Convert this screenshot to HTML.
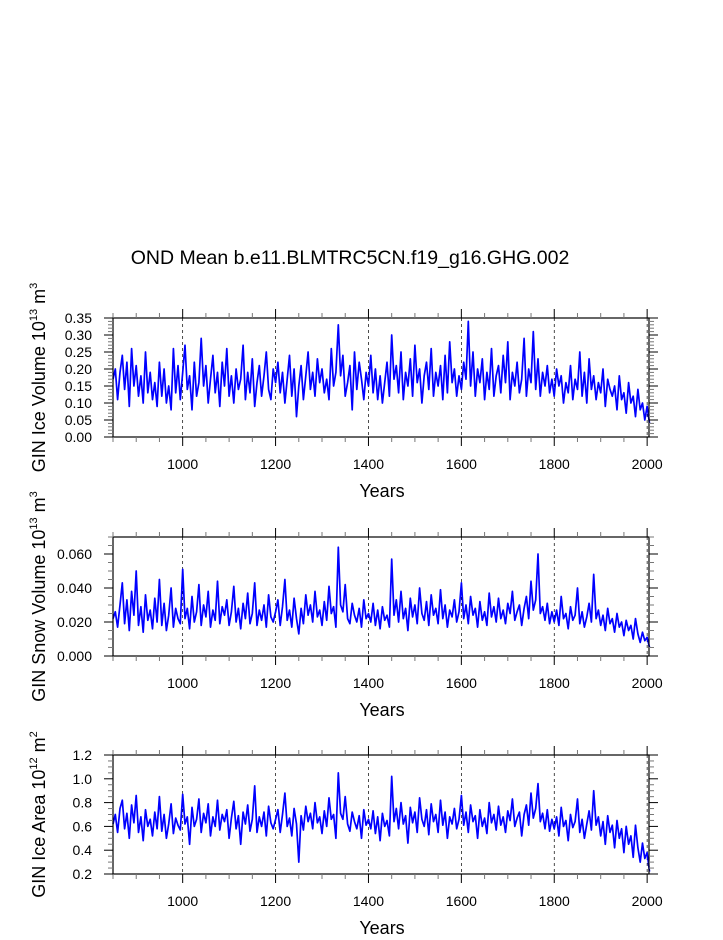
<!DOCTYPE html>
<html><head><meta charset="utf-8">
<style>
html,body{margin:0;padding:0;background:#fff;}
svg text{font-family:"Liberation Sans",Arial,sans-serif;fill:#000;}
</style></head>
<body>
<svg id="chart" width="723" height="935" xmlns="http://www.w3.org/2000/svg">
<text x="350" y="264" font-size="19.5" text-anchor="middle">OND Mean b.e11.BLMTRC5CN.f19_g16.GHG.002</text>
</svg>
<script>
const startYear = 850;
const stepYears = 5;
const xTickYears = [1000, 1200, 1400, 1600, 1800, 2000];
const iceVolume = [17,20,11,19,24,14,22,9,26,15,21,12,18,10,25,13,19,11,16,9,22,12,20,10,15,8,26,13,21,11,
19,27,14,18,8,22,12,16,29,15,21,10,17,24,13,19,9,22,15,26,12,18,10,20,14,17,27,11,19,13,23,9,16,21,12,18,25,14,11,20,
16,22,13,19,10,17,24,12,20,6,15,21,11,18,25,14,19,12,23,16,20,13,17,11,26,15,19,33,18,24,12,16,21,8,25,14,22,17,11,19,
15,24,13,20,11,18,10,16,22,12,30,17,21,13,25,11,19,15,23,12,27,16,20,10,18,22,14,26,12,19,15,21,11,24,13,28,16,20,12,18,
14,22,17,34,15,25,12,20,16,23,11,19,14,26,12,18,21,13,24,16,28,11,19,15,22,13,17,29,12,20,16,31,14,23,12,19,15,21,13,17,
12,20,15,18,10,16,13,21,11,17,14,25,12,19,10,23,14,18,11,16,13,20,9,17,14,12,15,8,18,11,13,7,16,10,12,6,14,8,10,5,9,4].map(v=>v/100);
const snowVolume = [22,26,17,30,43,19,33,15,38,24,50,18,29,14,36,21,27,16,34,20,45,18,31,15,24,40,17,28,22,19,
51,22,28,16,35,20,26,42,18,30,23,38,17,27,21,44,19,29,24,33,18,26,41,20,28,16,31,22,37,19,25,43,18,27,21,30,17,36,23,20,
26,33,18,29,45,21,27,17,34,22,13,28,19,36,24,30,20,38,23,27,18,32,21,41,25,29,17,64,30,26,42,22,19,31,24,20,28,17,33,22,
25,20,31,18,27,16,29,21,24,17,57,24,33,20,38,22,28,15,34,23,30,19,40,25,21,32,18,36,24,28,19,39,22,30,17,27,23,33,20,26,
43,22,30,19,35,24,28,17,32,21,26,18,37,23,29,20,34,22,27,19,31,25,38,21,26,30,18,28,35,22,44,27,33,60,25,29,21,31,19,26,
20,27,18,35,22,25,16,29,21,24,40,19,26,17,23,31,20,48,22,27,18,24,15,28,19,22,14,25,17,20,12,21,15,18,10,22,13,8,14,9,11,5].map(v=>v/1000);
const iceArea = [62,70,55,75,82,58,71,50,78,63,86,55,68,48,74,60,66,52,72,58,85,56,70,50,62,79,54,67,61,57,
87,62,68,45,76,60,66,83,55,71,63,79,52,68,60,82,57,70,64,74,50,67,81,58,69,45,72,62,78,56,66,94,55,68,60,72,52,77,63,58,
66,74,55,70,88,60,67,52,75,62,30,69,57,77,64,71,58,80,63,68,54,73,60,84,66,70,50,105,71,66,85,62,56,72,64,58,69,50,74,61,
66,58,73,54,68,48,71,60,65,52,102,64,75,58,80,62,69,46,76,63,72,55,84,66,60,74,53,79,64,70,55,82,61,72,50,68,62,75,58,66,
86,61,72,55,78,64,69,50,74,60,67,54,80,63,70,57,77,61,68,55,73,65,83,60,67,72,52,70,78,61,88,67,75,96,64,71,58,74,56,66,
58,68,52,76,60,65,48,70,59,64,83,55,66,50,62,73,57,90,61,68,52,64,45,69,55,61,42,65,50,58,38,60,45,52,34,61,42,30,46,33,38,22].map(v=>v/100);
const iceVolTicks = ["0.00","0.05","0.10","0.15","0.20","0.25","0.30","0.35"];
const snowTicks = ["0.000","0.020","0.040","0.060"];
const areaTicks = ["0.2","0.4","0.6","0.8","1.0","1.2"];

const NS="http://www.w3.org/2000/svg";
const svg=document.getElementById('chart');
const X0=113,X1=649,XMIN=850,XMAX=2004;
function xs(y){return X0+(y-XMIN)/(XMAX-XMIN)*(X1-X0);}
function mk(t,a,p){const e=document.createElementNS(NS,t);for(const k in a)e.setAttribute(k,a[k]);(p||svg).appendChild(e);return e;}

function panel(name,top,bot,ymin,ymax,ticks,majStep,minStep,data,ylabel,unitExp,powExp){
  const g=mk('g',{});
  
  
  const ys=v=>bot-(v-ymin)/(ymax-ymin)*(bot-top);
  xTickYears.forEach(yr=>{
    const l=mk('line',{x1:xs(yr),x2:xs(yr),y1:top,y2:bot,stroke:'#000','stroke-width':0.7,'stroke-dasharray':'3,3'},g);
    
    
  });
  let d='';
  data.forEach((v,i)=>{d+=(i?'L':'M')+xs(startYear+i*stepYears).toFixed(1)+','+ys(v).toFixed(1);});
  const p=mk('path',{d:d,fill:'none',stroke:'#0000ff','stroke-width':1.7,'stroke-linejoin':'round'},g);
  
  
  const r=mk('rect',{x:X0,y:top,width:X1-X0,height:bot-top,fill:'none',stroke:'#000','stroke-width':1.2},g);
  
  
  for(let yr=850;yr<=2000;yr+=50){
    const maj=xTickYears.includes(yr);const L=maj?9:5;
    mk('line',{x1:xs(yr),x2:xs(yr),y1:top,y2:top-L,stroke:maj?'#000':'#777','stroke-width':1},g);
    mk('line',{x1:xs(yr),x2:xs(yr),y1:bot,y2:bot+L,stroke:maj?'#000':'#777','stroke-width':1},g);
  }
  xTickYears.forEach(yr=>{
    const t=mk('text',{x:xs(yr),y:bot+32,'font-size':14,'text-anchor':'middle'},g);t.textContent=yr;
    
    
  });
  for(let v=ymin;v<=ymax+1e-9;v+=minStep){
    const maj=Math.abs(Math.round((v-ymin)/majStep)*majStep-(v-ymin))<1e-9;const L=maj?9:5;
    const y=ys(v);
    mk('line',{x1:X0,x2:X0-L,y1:y,y2:y,stroke:maj?'#000':'#777','stroke-width':1},g);
    mk('line',{x1:X1,x2:X1+L,y1:y,y2:y,stroke:maj?'#000':'#777','stroke-width':1},g);
  }
  ticks.forEach(s=>{
    const t=mk('text',{x:X0-21,y:ys(parseFloat(s))+5,'font-size':14,'text-anchor':'end'},g);t.textContent=s;
    
    
  });
  const xt=mk('text',{x:382,y:bot+60,'font-size':18,'text-anchor':'middle'},g);xt.textContent='Years';
  
  
  const cy=(top+bot)/2;
  const yt=mk('text',{x:0,y:0,'font-size':18,'text-anchor':'middle',transform:`translate(45,${cy}) rotate(-90)`},g);
  yt.innerHTML=ylabel+' 10<tspan font-size="11" dy="-8">'+unitExp+'</tspan><tspan dy="8"> m</tspan><tspan font-size="11" dy="-8">'+powExp+'</tspan>';
  
  
}
panel('ice-volume',318,437,0,0.35,iceVolTicks,0.05,0.01,iceVolume,'GIN Ice Volume','13','3');
panel('snow-volume',537,656,0,0.07,snowTicks,0.02,0.005,snowVolume,'GIN Snow Volume','13','3');
panel('ice-area',755,874,0.2,1.2,areaTicks,0.2,0.05,iceArea,'GIN Ice Area','12','2');
</script>
</body></html>
